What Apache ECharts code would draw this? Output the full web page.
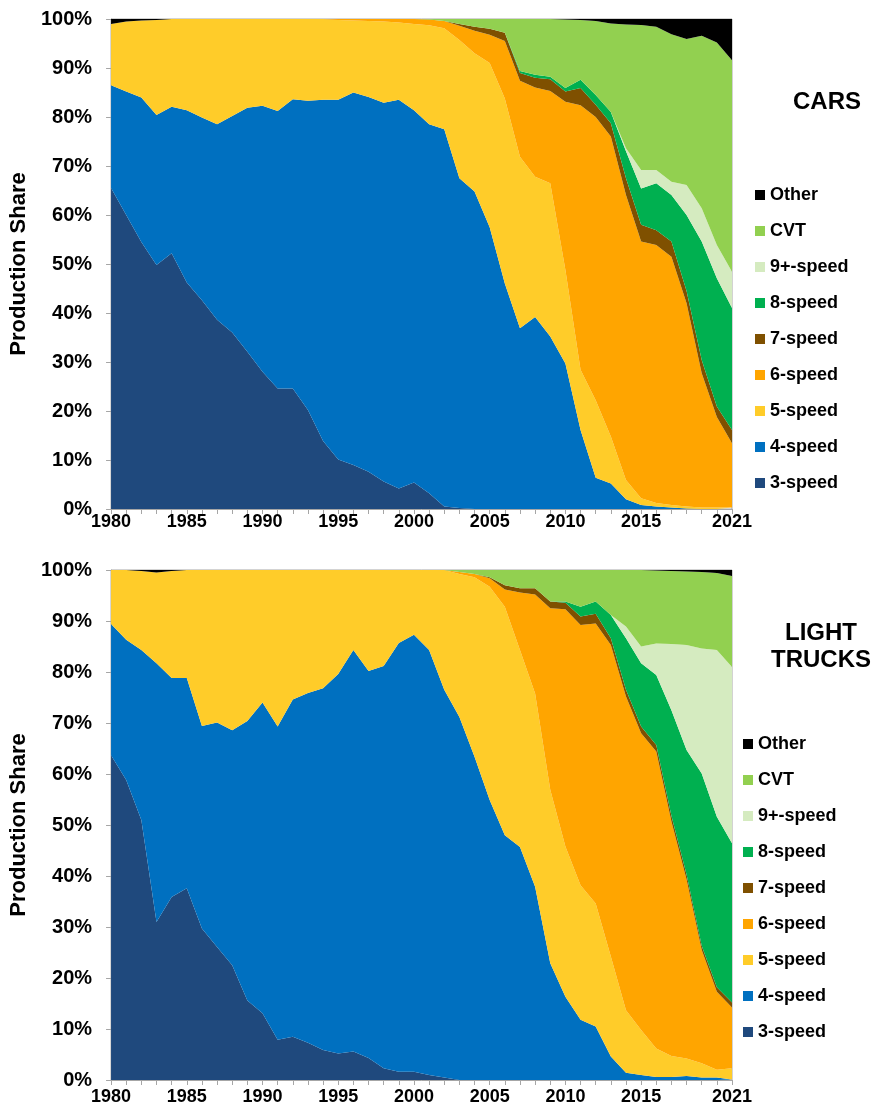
<!DOCTYPE html>
<html><head><meta charset="utf-8">
<script src="https://cdn.jsdelivr.net/npm/echarts@6/dist/echarts.min.js"></script>
<style>html,body{margin:0;padding:0;background:#fff}#c{width:878px;height:1113px}</style>
</head><body><div id="c"></div>
<script>
const years = ['1980','1981','1982','1983','1984','1985','1986','1987','1988','1989',
  '1990','1991','1992','1993','1994','1995','1996','1997','1998','1999',
  '2000','2001','2002','2003','2004','2005','2006','2007','2008','2009',
  '2010','2011','2012','2013','2014','2015','2016','2017','2018','2019','2020','2021'];
const shownYearLabels = ['1980','1985','1990','1995','2000','2005','2010','2015','2021'];
const seriesNames = ['3-speed','4-speed','5-speed','6-speed','7-speed','8-speed','9+-speed','CVT','Other'];
const colors = ['#1F497D','#0070C0','#FFCC29','#FFA500','#7F5000','#00B050','#D5EBC0','#92D050','#000000'];

// CARS production share (%) by year
const cars3 = [65.5,60.0,54.5,49.8,52.2,46.2,42.6,38.6,36.0,32.1,28.0,24.6,24.6,20.2,13.9,10.1,9.0,7.6,5.6,4.2,5.4,3.2,0.5,0.2,0,0,0,0,0,0,0,0,0,0,0,0,0,0,0,0,0,0];
const cars4 = [21.0,25.2,29.5,30.6,29.9,35.2,37.3,39.9,44.2,49.8,54.3,56.6,59.0,63.1,69.6,73.4,76.0,76.5,77.3,79.3,76.0,75.3,77.0,67.3,64.8,57.5,46.0,36.9,39.2,35.2,29.7,16.1,6.4,5.2,2.0,0.8,0.5,0.3,0.1,0,0,0];
const cars5 = [12.5,14.3,15.7,19.4,17.9,18.6,20.1,21.5,19.8,18.1,17.7,18.8,16.4,16.7,16.5,16.3,14.7,15.5,16.6,15.8,17.6,20.2,20.6,28.2,28.2,33.5,37.8,35.0,28.6,31.3,19.1,12.3,15.8,9.6,3.9,1.4,0.7,0.5,0.4,0.3,0.3,0.3];
const cars6 = [0,0,0,0,0,0,0,0,0,0,0,0,0,0,0,0.2,0.3,0.4,0.5,0.7,1.0,1.2,1.5,2.9,4.6,5.8,11.7,15.5,18.2,18.8,34.3,54.0,57.8,61.2,58.2,52.4,52.7,50.7,41.5,27.4,18.5,13.1];
const cars7 = [0,0,0,0,0,0,0,0,0,0,0,0,0,0,0,0,0,0,0,0,0,0,0,0.4,0.8,1.2,1.7,1.6,2.0,2.4,2.1,3.5,2.5,2.7,3.4,3.4,3.0,3.1,2.5,2.7,2.1,2.7];
const cars8 = [0,0,0,0,0,0,0,0,0,0,0,0,0,0,0,0,0,0,0,0,0,0,0,0,0,0,0,0.4,0.6,0.5,0.7,1.7,2.0,2.3,5.5,7.4,9.6,9.5,15.5,24.2,26.2,24.9];
const cars9 = [0,0,0,0,0,0,0,0,0,0,0,0,0,0,0,0,0,0,0,0,0,0,0,0,0,0,0,0,0,0,0,0,0,0,0.6,3.8,2.7,2.7,6.1,6.8,6.8,7.4];
const carsCVT = [0,0,0,0,0,0,0,0,0,0,0,0,0,0,0,0,0,0,0,0,0,0.1,0.4,1.0,1.6,2.0,2.8,10.6,11.4,11.8,14.0,12.2,15.1,18.1,25.3,29.6,29.2,30.1,29.8,35.2,41.3,43.2];
const carsOther = [1.0,0.5,0.3,0.2,0,0,0,0,0,0,0,0,0,0,0,0,0,0,0,0,0,0,0,0,0,0,0,0,0,0,0.1,0.2,0.4,0.9,1.1,1.2,1.6,3.1,4.1,3.4,4.8,8.4];

// LIGHT TRUCKS production share (%) by year
const trucks3 = [63.7,58.8,51.0,31.0,35.9,37.6,29.7,26.1,22.5,15.6,13.1,7.9,8.5,7.3,5.9,5.2,5.6,4.3,2.3,1.6,1.6,1.0,0.5,0,0,0,0,0,0,0,0,0,0,0,0,0,0,0,0,0,0,0];
const trucks4 = [25.7,27.5,33.3,50.7,42.9,41.2,39.7,44.0,46.1,54.8,60.9,61.4,66.1,68.6,70.9,74.4,78.7,75.9,78.9,84.1,85.7,83.3,76.0,71.2,63.4,54.9,48.0,45.7,37.9,22.9,16.3,11.8,10.5,4.6,1.4,1.0,0.6,0.6,0.8,0.5,0.5,0.1];
const trucks5 = [10.6,13.7,15.5,17.8,21.0,21.2,30.6,29.9,31.4,29.6,26.0,30.7,25.4,24.1,23.2,20.4,15.7,19.8,18.8,14.3,12.7,15.7,23.5,28.0,35.2,41.8,44.8,38.6,37.9,34.0,29.5,26.4,24.1,19.6,12.3,8.8,5.6,4.1,3.4,2.8,1.5,2.2];
const trucks6 = [0,0,0,0,0,0,0,0,0,0,0,0,0,0,0,0,0,0,0,0,0,0,0,0.4,0.6,1.7,3.4,11.3,19.4,35.6,46.5,51.0,54.9,61.1,61.5,58.2,58.2,46.0,35.1,22.2,15.3,11.9];
const trucks7 = [0,0,0,0,0,0,0,0,0,0,0,0,0,0,0,0,0,0,0,0,0,0,0,0,0,0.2,0.8,0.8,1.2,1.3,1.3,1.7,1.9,1.3,1.3,1.3,1.3,1.1,1.0,0.8,0.9,1.0];
const trucks8 = [0,0,0,0,0,0,0,0,0,0,0,0,0,0,0,0,0,0,0,0,0,0,0,0,0,0,0,0,0,0,0.2,1.9,2.4,4.6,10.1,12.4,13.7,20.7,24.4,33.8,33.4,31.2];
const trucks9 = [0,0,0,0,0,0,0,0,0,0,0,0,0,0,0,0,0,0,0,0,0,0,0,0,0,0,0,0,0,0,0,0,0,0,2.3,3.3,6.2,13.0,20.6,24.5,32.7,34.6];
const trucksCVT = [0,0,0,0,0,0,0,0,0,0,0,0,0,0,0,0,0,0,0,0,0,0,0,0.4,0.8,1.4,3.0,3.6,3.6,6.2,6.2,7.2,6.2,8.8,11.1,15.0,14.3,14.3,14.4,15.0,15.1,17.8];
const trucksOther = [0,0,0.2,0.5,0.2,0,0,0,0,0,0,0,0,0,0,0,0,0,0,0,0,0,0,0,0,0,0,0,0,0,0,0,0,0,0,0,0.1,0.2,0.3,0.4,0.6,1.2];

const carsData = [cars3,cars4,cars5,cars6,cars7,cars8,cars9,carsCVT,carsOther];
const trucksData = [trucks3,trucks4,trucks5,trucks6,trucks7,trucks8,trucks9,trucksCVT,trucksOther];

const FONT = '"Liberation Sans", Arial, sans-serif';
const gray = '#A6A6A6';

function makeSeries(dataSets, gridIdx, stackName) {
  return dataSets.map((d, i) => ({
    name: seriesNames[i], type: 'line', stack: stackName,
    xAxisIndex: gridIdx, yAxisIndex: gridIdx,
    data: d, symbol: 'none', smooth: false,
    lineStyle: { width: 0 }, areaStyle: { color: colors[i], opacity: 1 },
    itemStyle: { color: colors[i] }, silent: true
  }));
}

function xAxis(gridIdx, margin) {
  return {
    type: 'category', gridIndex: gridIdx, data: years, boundaryGap: false,
    axisLine: { lineStyle: { color: gray, width: 1 } },
    axisTick: { show: true, interval: 0, length: 5, lineStyle: { color: gray } },
    axisLabel: {
      interval: (idx, val) => shownYearLabels.indexOf(val) >= 0,
      color: '#000', fontWeight: 'bold', fontSize: 18, fontFamily: FONT, margin: margin
    },
    splitLine: { show: false }
  };
}
function yAxis(gridIdx) {
  return {
    type: 'value', gridIndex: gridIdx, min: 0, max: 100, interval: 10,
    name: 'Production Share', nameLocation: 'middle', nameGap: 75,
    nameTextStyle: { color: '#000', fontWeight: 'bold', fontSize: 22, fontFamily: FONT },
    axisLine: { show: true, lineStyle: { color: gray, width: 1 } },
    axisTick: { show: true, length: 5, lineStyle: { color: gray } },
    axisLabel: { formatter: '{value}%', color: '#000', fontWeight: 'bold', fontSize: 20, fontFamily: FONT, margin: 19 },
    splitLine: { show: false }
  };
}
const legendNames = seriesNames.slice().reverse();
function legend(left, top) {
  return {
    orient: 'vertical', left: left, top: top, data: legendNames,
    icon: 'rect', itemWidth: 10, itemHeight: 10, itemGap: 18,
    selectedMode: false,
    textStyle: { color: '#000', fontWeight: 'bold', fontSize: 18, fontFamily: FONT }
  };
}

const chart = echarts.init(document.getElementById('c'), null, { renderer: 'canvas' });
chart.setOption({
  animation: false,
  backgroundColor: '#fff',
  grid: [
    { left: 111, top: 19, width: 621, height: 490, show: true, borderColor: gray, borderWidth: 1, backgroundColor: 'transparent' },
    { left: 111, top: 570, width: 621, height: 510, show: true, borderColor: gray, borderWidth: 1, backgroundColor: 'transparent' }
  ],
  xAxis: [xAxis(0, 4), xAxis(1, 8)],
  yAxis: [yAxis(0), yAxis(1)],
  legend: [legend(750, 181), legend(738, 730)],
  graphic: [
    { type: 'text', x: 827, y: 102, style: { text: 'CARS', align: 'center', verticalAlign: 'middle', textAlign: 'center', textVerticalAlign: 'middle', font: 'bold 24px ' + FONT, fill: '#000' } },
    { type: 'text', x: 821, y: 647, style: { text: 'LIGHT\nTRUCKS', align: 'center', verticalAlign: 'middle', textAlign: 'center', textVerticalAlign: 'middle', lineHeight: 27, font: 'bold 24px ' + FONT, fill: '#000' } }
  ],
  series: makeSeries(carsData, 0, 'cars').concat(makeSeries(trucksData, 1, 'trucks'))
});
</script></body></html>
